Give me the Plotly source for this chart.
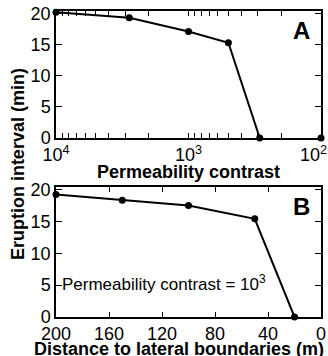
import plotly.graph_objects as go
from plotly.subplots import make_subplots

# Panel A: permeability contrast vs eruption interval
perm_contrast = [10000, 2800, 1000, 500, 290]
interval_a = [20.2, 19.3, 17.1, 15.3, 0]
perm_extra_x = [100]
perm_extra_y = [0]

# Panel B: distance to lateral boundaries vs eruption interval
distance = [200, 150, 100, 50, 20]
interval_b = [19.2, 18.3, 17.5, 15.4, 0]

y_ticks = [0, 5, 10, 15, 20]
x_b_ticks = [200, 160, 120, 80, 40, 0]
x_a_decades = [2, 3, 4]

FONT = "Liberation Sans, Arial, sans-serif"
FS = 18

# log-axis tick positions (decades labelled, 2..9 unlabelled)
x_a_tickvals, x_a_ticktext = [], []
for e in x_a_decades:
    for m in range(1, 10):
        if e == 4 and m > 1:
            break
        x_a_tickvals.append(m * 10 ** e)
        if m == 1:
            lab = f"10<sup>{e}</sup>"
            if e == 2:
                lab += "&nbsp;&nbsp;&nbsp;"
        else:
            lab = " "
        x_a_ticktext.append(lab)

fig = make_subplots(rows=2, cols=1, vertical_spacing=0.16)

line = dict(color="black", width=2)
marker = dict(color="black", size=7)

fig.add_trace(go.Scatter(x=perm_contrast, y=interval_a, mode="lines+markers",
                         line=line, marker=marker, cliponaxis=False), row=1, col=1)
fig.add_trace(go.Scatter(x=perm_extra_x, y=perm_extra_y, mode="markers",
                         marker=marker, cliponaxis=False), row=1, col=1)
fig.add_trace(go.Scatter(x=distance, y=interval_b, mode="lines+markers",
                         line=line, marker=marker, cliponaxis=False), row=2, col=1)

axis_common = dict(showline=True, linecolor="black", linewidth=1.5, mirror="ticks",
                   ticks="inside", tickcolor="black", tickwidth=1, showgrid=False,
                   zeroline=False, automargin=False, tickangle=0,
                   ticklabeloverflow="allow",
                   tickfont=dict(family=FONT, size=FS, color="black"))

fig.update_xaxes(type="log", range=[4, 2], tickvals=x_a_tickvals, ticktext=x_a_ticktext,
                 ticklen=5, **axis_common, row=1, col=1)
fig.update_xaxes(range=[200, 0], tickvals=x_b_ticks, ticklen=5,
                 **axis_common, row=2, col=1)
fig.update_yaxes(range=[0, 20.4], tickvals=y_ticks, ticklen=6, **axis_common)

fig.update_layout(
    width=328, height=356,
    margin=dict(l=56, r=7, t=11, b=39),
    paper_bgcolor="white", plot_bgcolor="white",
    showlegend=False,
    font=dict(family=FONT, color="black"),
)
fig.update_layout(yaxis=dict(domain=[0.585, 1]), yaxis2=dict(domain=[0, 0.425]))

fig.add_annotation(text="<b>Permeability contrast</b>", xref="paper", yref="paper",
                   x=0.5, y=0.474, xanchor="center", yanchor="middle", showarrow=False,
                   font=dict(family=FONT, size=FS, color="black"))
fig.add_annotation(text="<b>Distance to lateral boundaries (m)</b>", xref="paper",
                   yref="paper", x=0.466, y=-0.104, xanchor="center", yanchor="middle",
                   showarrow=False, font=dict(family=FONT, size=FS, color="black"))
fig.add_annotation(text="<b>A</b>", xref="x domain", yref="y domain", x=0.966, y=0.85,
                   xanchor="right", yanchor="middle", showarrow=False,
                   font=dict(family=FONT, size=24, color="black"))
fig.add_annotation(text="<b>B</b>", xref="x2 domain", yref="y2 domain", x=0.966, y=0.85,
                   xanchor="right", yanchor="middle", showarrow=False,
                   font=dict(family=FONT, size=24, color="black"))
fig.add_annotation(text="Permeability contrast = 10<sup>3</sup>", xref="x2", yref="y2",
                   x=197, y=5.3, xanchor="left", yanchor="middle", showarrow=False,
                   font=dict(family=FONT, size=17, color="black"))
fig.add_annotation(text="<b>Eruption interval (min)</b>", xref="paper", yref="paper",
                   x=-0.143, y=0.5, xanchor="center", yanchor="middle", textangle=-90,
                   showarrow=False, font=dict(family=FONT, size=FS, color="black"))

fig.write_html("out.html", config={"displayModeBar": False},
               post_script="document.body.style.margin='0';document.body.style.overflow='hidden';")
